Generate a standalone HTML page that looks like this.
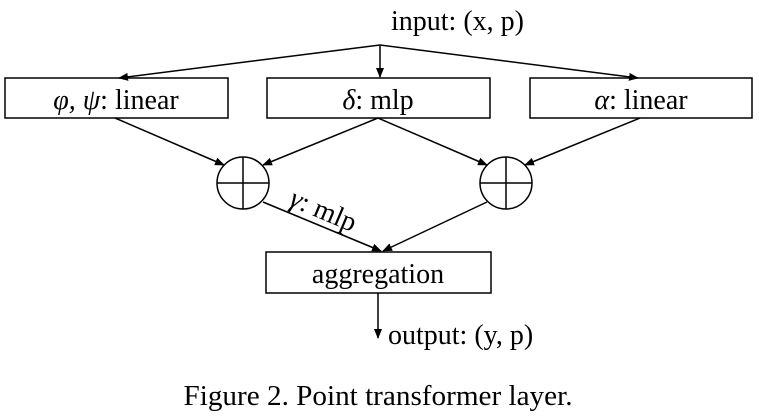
<!DOCTYPE html>
<html><head><meta charset="utf-8"><style>body{margin:0;background:#fff}svg{display:block}</style></head>
<body>
<svg width="759" height="419" viewBox="0 0 759 419" xmlns="http://www.w3.org/2000/svg" font-family="Liberation Serif, serif" fill="none" stroke="#000" stroke-width="1.5">
<defs><marker id="a" markerWidth="10" markerHeight="8" refX="9" refY="4" orient="auto" markerUnits="userSpaceOnUse"><path d="M0,0 L10,4 L0,8 z" fill="#000" stroke="none"/></marker></defs>
<rect x="5" y="78" width="223" height="40"/>
<rect x="267" y="78" width="223" height="40"/>
<rect x="530" y="78" width="222" height="40"/>
<rect x="266" y="252" width="225" height="41"/>
<line x1="380" y1="45" x2="380" y2="77" marker-end="url(#a)"/>
<line x1="380" y1="45" x2="119" y2="78" marker-end="url(#a)"/>
<line x1="380" y1="45" x2="638" y2="78" marker-end="url(#a)"/>
<circle cx="243" cy="183" r="26"/>
<line x1="217" y1="183" x2="269" y2="183"/><line x1="243" y1="157" x2="243" y2="209"/>
<circle cx="506" cy="183" r="26"/>
<line x1="480" y1="183" x2="532" y2="183"/><line x1="506" y1="157" x2="506" y2="209"/>
<line x1="115" y1="118" x2="224" y2="165" marker-end="url(#a)"/>
<line x1="378" y1="118" x2="263" y2="165" marker-end="url(#a)"/>
<line x1="378" y1="118" x2="487" y2="165" marker-end="url(#a)"/>
<line x1="640" y1="118" x2="525" y2="165" marker-end="url(#a)"/>
<line x1="263" y1="202" x2="381" y2="251" marker-end="url(#a)"/>
<line x1="487" y1="202" x2="383" y2="251" marker-end="url(#a)"/>
<line x1="378" y1="293" x2="378" y2="338" marker-end="url(#a)"/>
<g fill="#000" stroke="none" font-size="28">
<text x="391" y="30">input: (x, p)</text>
<text x="116" y="109" text-anchor="middle"><tspan font-style="italic">φ, ψ</tspan>: linear</text>
<text x="378" y="109" text-anchor="middle"><tspan font-style="italic">δ</tspan>: mlp</text>
<text x="641" y="109" text-anchor="middle"><tspan font-style="italic">α</tspan>: linear</text>
<text x="378" y="283" text-anchor="middle">aggregation</text>
<text x="388" y="344">output: (y, p)</text>
<text x="288" y="205" transform="rotate(23 288 205)"><tspan font-style="italic">γ</tspan>: mlp</text>
<text x="378" y="405" text-anchor="middle" textLength="389" lengthAdjust="spacingAndGlyphs">Figure 2. Point transformer layer.</text>
</g>
</svg>
</body></html>
